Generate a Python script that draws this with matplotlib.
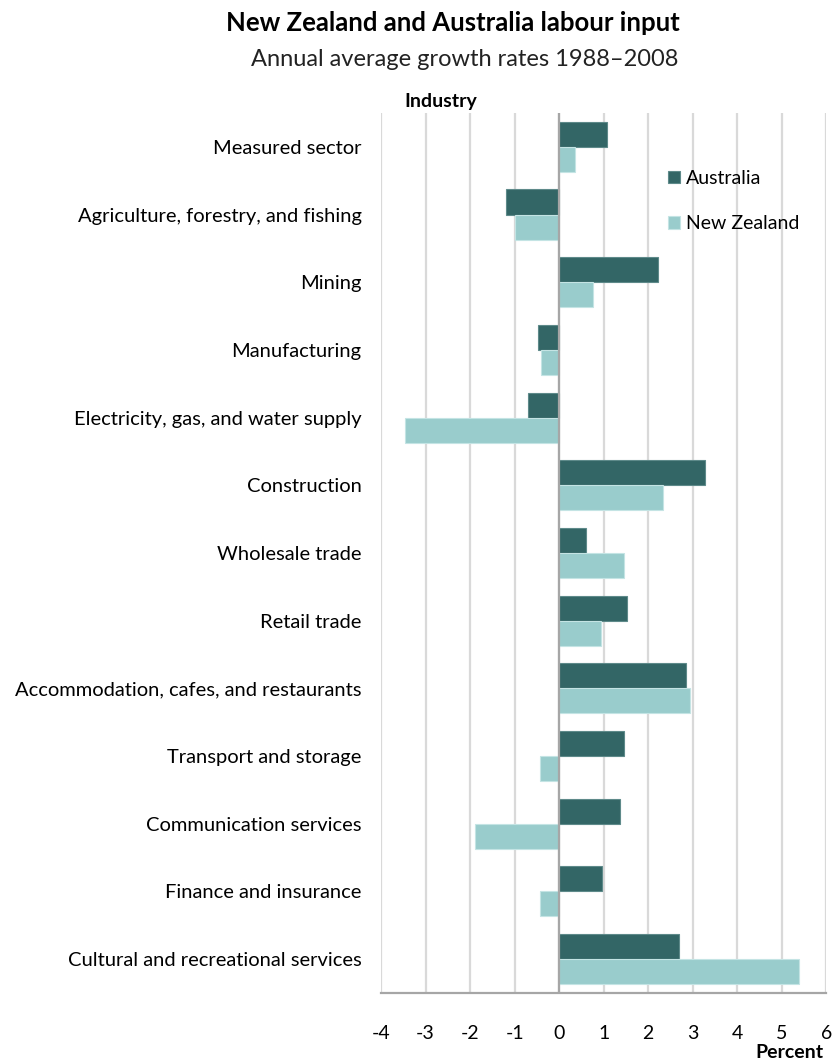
import matplotlib
matplotlib.use("Agg")
import matplotlib.pyplot as plt
import numpy as np

plt.rcParams['font.family'] = ['Lato', 'DejaVu Sans']

industries = [
    "Measured sector",
    "Agriculture, forestry, and fishing",
    "Mining",
    "Manufacturing",
    "Electricity, gas, and water supply",
    "Construction",
    "Wholesale trade",
    "Retail trade",
    "Accommodation, cafes, and restaurants",
    "Transport and storage",
    "Communication services",
    "Finance and insurance",
    "Cultural and recreational services",
]
australia = [1.08, -1.20, 2.23, -0.47, -0.70, 3.27, 0.61, 1.53, 2.84, 1.45, 1.36, 0.96, 2.69]
new_zealand = [0.35, -1.00, 0.76, -0.41, -3.47, 2.34, 1.45, 0.93, 2.95, -0.44, -1.88, -0.44, 5.40]
x_ticks = [-4, -3, -2, -1, 0, 1, 2, 3, 4, 5, 6]

aus_color = "#336666"
nz_color = "#99CCCC"

fig = plt.figure(figsize=(8.32, 10.61), dpi=100)
ax = fig.add_axes([0.458, 0.0641, 0.535, 0.8294])

y = np.arange(len(industries))
h = 0.37
ax.barh(y - h / 2, australia, height=h, color=aus_color, edgecolor="#5e8a8a",
        linewidth=0.8, label="Australia", zorder=3)
ax.barh(y + h / 2, new_zealand, height=h, color=nz_color, edgecolor="#c4e4e4",
        linewidth=0.8, label="New Zealand", zorder=3)

ax.set_xlim(-4, 6)
ax.set_ylim(len(industries) - 0.5, -0.5)
ax.set_xticks(x_ticks)
ax.set_xticklabels([str(t) for t in x_ticks], fontsize=14)
ax.set_yticks(y)
ax.set_yticklabels(industries, fontsize=14.5)
ax.tick_params(axis="both", length=0)
ax.tick_params(axis="x", pad=23)
ax.tick_params(axis="y", pad=14)

ax.grid(axis="x", color="#d9d9d9", linewidth=1.6, zorder=0)
ax.axvline(0, color="#a6a6a6", linewidth=1.6, zorder=4)
for side in ["top", "right", "left"]:
    ax.spines[side].set_visible(False)
ax.spines["bottom"].set_color("#a6a6a6")
ax.spines["bottom"].set_linewidth(1.6)

leg = ax.legend(loc="upper left", bbox_to_anchor=(0.605, 0.955), frameon=False,
                fontsize=14, handlelength=0.6, handleheight=0.6,
                handletextpad=0.35, labelspacing=1.45)

fig.text(0.544, 0.978, "New Zealand and Australia labour input",
         ha="center", va="center", fontsize=18.5, fontweight="bold")
fig.text(0.559, 0.944, "Annual average growth rates 1988\u20132008",
         ha="center", va="center", fontsize=17, color="#222222")
fig.text(0.486, 0.904, "Industry", ha="left", va="center",
         fontsize=14, fontweight="bold")
fig.text(0.99, 0.008, "Percent", ha="right", va="center",
         fontsize=14, fontweight="bold")

fig.savefig("out.png", dpi=100, facecolor="white")
